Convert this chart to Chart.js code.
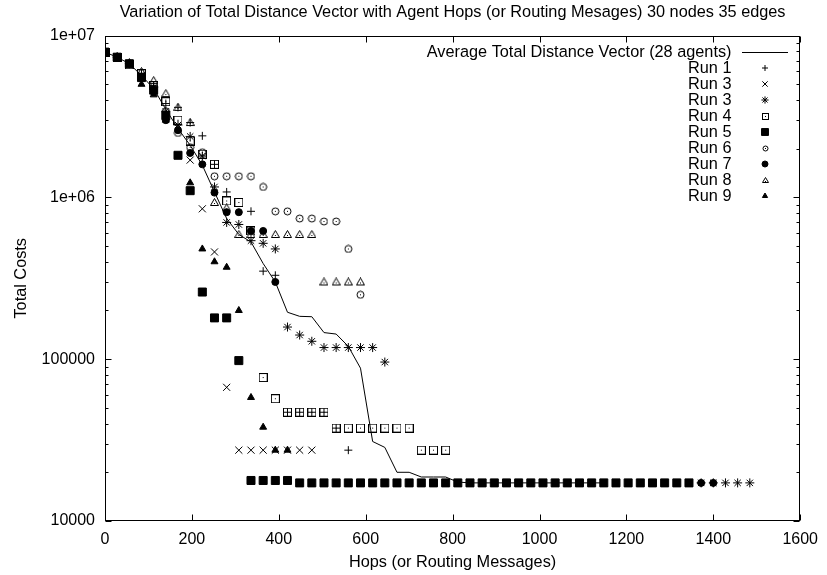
<!DOCTYPE html>
<html>
<head>
<meta charset="utf-8">
<script src="https://cdn.jsdelivr.net/npm/chart.js@4/dist/chart.umd.min.js"></script>
<style>
html,body{margin:0;padding:0;background:#ffffff;}
#wrap{width:827px;height:575px;position:relative;}
</style>
</head>
<body>
<div id="wrap"><canvas id="c" width="827" height="575"></canvas></div>
<script>
// ---------- texts ----------
const chartTitle = 'Variation of Total Distance Vector with Agent Hops (or Routing Mesages) 30 nodes 35 edges';
const xAxisTitle = 'Hops (or Routing Messages)';
const yAxisTitle = 'Total Costs';
const seriesLabels = ['Average Total Distance Vector (28 agents)', 'Run 1', 'Run 3', 'Run 3', 'Run 4', 'Run 5', 'Run 6', 'Run 7', 'Run 8', 'Run 9'];

// ---------- ticks ----------
const xMin = 0, xMax = 1600, xStep = 200;
const yTickValues = [10000, 100000, 1000000, 10000000];
const yTickLabels = ['10000', '100000', '1e+06', '1e+07'];

// ---------- data (hops, total cost) ----------
const avgHops = [0,28,56,84,112,140,168,196,224,252,280,308,336,364,392,420,448,476,504,532,560,588,616,644,672,700,728,756,784,812,840,868,896,924,952,980,1008,1036,1064,1092,1120,1148];
const avgCost = [7.9e6,7.35e6,6.7e6,5.66e6,4.7e6,3.5e6,2.66e6,2.1e6,1.58e6,1.08e6,7.4e5,5.9e5,5.3e5,3.9e5,3.0e5,1.95e5,1.84e5,1.83e5,1.46e5,1.43e5,1.2e5,8.8e4,3.1e4,2.85e4,2.0e4,2.0e4,1.87e4,1.87e4,1.87e4,1.74e4,1.72e4,1.72e4,1.72e4,1.72e4,1.72e4,1.72e4,1.72e4,1.72e4,1.72e4,1.72e4,1.72e4,1.72e4];

const run1 = [[0,7.9e6],[28,7.4e6],[56,6.7e6],[84,5.8e6],[112,4.9e6],[140,3.8e6],[168,3.6e6],[196,2.9e6],[224,2.4e6],[252,1.6e6],[280,1.08e6],[336,8.2e5],[364,3.5e5],[392,3.3e5],[420,4.7e4],[448,4.7e4],[476,4.7e4],[504,4.7e4],[532,3.75e4],[560,2.74e4]];
const run3x = [[0,7.9e6],[28,7.3e6],[56,6.6e6],[84,5.6e6],[112,4.6e6],[140,3.3e6],[168,2.7e6],[196,1.7e6],[224,8.5e5],[252,4.6e5],[280,6.7e4],[308,2.74e4],[336,2.74e4],[364,2.74e4],[392,2.74e4],[420,2.74e4],[448,2.74e4],[476,2.74e4]];
const run3s = [[0,7.9e6],[28,7.35e6],[56,6.7e6],[84,5.7e6],[112,4.8e6],[140,3.4e6],[168,2.8e6],[196,2.38e6],[224,1.8e6],[252,1.16e6],[280,7.0e5],[308,6.8e5],[336,5.4e5],[364,5.2e5],[392,4.8e5],[420,1.58e5],[448,1.41e5],[476,1.29e5],[504,1.18e5],[532,1.18e5],[560,1.18e5],[588,1.18e5],[616,1.18e5],[644,9.6e4],[1372,1.72e4],[1400,1.72e4],[1428,1.72e4],[1456,1.72e4],[1484,1.72e4]];
const run4 = [[0,7.9e6],[28,7.35e6],[56,6.6e6],[84,5.8e6],[112,4.9e6],[140,3.9e6],[168,3.0e6],[196,2.23e6],[224,1.85e6],[252,1.6e6],[280,9.5e5],[308,9.3e5],[336,6.2e5],[364,7.7e4],[392,5.7e4],[420,4.7e4],[448,4.7e4],[476,4.7e4],[504,4.7e4],[532,3.75e4],[560,3.75e4],[588,3.75e4],[616,3.75e4],[644,3.75e4],[672,3.75e4],[700,3.75e4],[728,2.74e4],[756,2.74e4],[784,2.74e4]];
const run5 = [[0,7.9e6],[28,7.35e6],[56,6.7e6],[84,5.5e6],[112,4.6e6],[140,3.2e6],[168,1.82e6],[196,1.1e6],[224,2.6e5],[252,1.8e5],[280,1.8e5],[308,9.8e4],[336,1.78e4],[364,1.78e4],[392,1.78e4],[420,1.78e4],[448,1.72e4],[476,1.72e4],[504,1.72e4],[532,1.72e4],[560,1.72e4],[588,1.72e4],[616,1.72e4],[644,1.72e4],[672,1.72e4],[700,1.72e4],[728,1.72e4],[756,1.72e4],[784,1.72e4],[812,1.72e4],[840,1.72e4],[868,1.72e4],[896,1.72e4],[924,1.72e4],[952,1.72e4],[980,1.72e4],[1008,1.72e4],[1036,1.72e4],[1064,1.72e4],[1092,1.72e4],[1120,1.72e4],[1148,1.72e4],[1176,1.72e4],[1204,1.72e4],[1232,1.72e4],[1260,1.72e4],[1288,1.72e4],[1316,1.72e4],[1344,1.72e4]];
const run6 = [[0,7.9e6],[28,7.35e6],[56,6.7e6],[84,5.6e6],[112,4.6e6],[140,3.4e6],[168,2.5e6],[196,2.04e6],[224,1.9e6],[252,1.35e6],[280,1.35e6],[308,1.35e6],[336,1.35e6],[364,1.16e6],[392,8.2e5],[420,8.2e5],[448,7.4e5],[476,7.4e5],[504,7.1e5],[532,7.1e5],[560,4.8e5],[588,2.5e5]];
const run7 = [[0,7.9e6],[28,7.35e6],[56,6.7e6],[84,5.5e6],[112,4.5e6],[140,3.0e6],[168,2.6e6],[196,1.88e6],[224,1.6e6],[252,1.07e6],[280,8.1e5],[308,8.1e5],[336,6.2e5],[364,6.2e5],[392,3.0e5],[1372,1.72e4],[1400,1.72e4]];
const run8 = [[0,7.9e6],[28,7.4e6],[56,6.8e6],[84,6.0e6],[112,5.27e6],[140,4.38e6],[168,3.6e6],[196,2.9e6],[252,9.3e5],[280,8.6e5],[308,5.9e5],[336,5.9e5],[364,5.9e5],[392,5.9e5],[420,5.9e5],[448,5.9e5],[476,5.9e5],[504,3.0e5],[532,3.0e5],[560,3.0e5],[588,3.0e5]];
const run9 = [[0,7.9e6],[28,7.3e6],[56,6.6e6],[84,5.0e6],[112,4.3e6],[140,3.0e6],[196,1.23e6],[224,4.8e5],[252,4.0e5],[280,3.7e5],[308,2.0e5],[336,5.8e4],[364,3.8e4],[392,2.74e4],[420,2.74e4]];

// ---------- marker images (gnuplot-like open markers with centre dot) ----------
function makeMarker(kind, size) {
  const c = document.createElement('canvas');
  c.width = size; c.height = size;
  const g = c.getContext('2d');
  g.strokeStyle = '#000'; g.fillStyle = '#000'; g.lineWidth = 1;
  const m = (size - 1) / 2;
  if (kind === 'box') {
    g.strokeRect(0.5, 0.5, size - 1, size - 1);
    g.fillRect(Math.floor(m), Math.floor(m), 1, 1);
  } else if (kind === 'circle') {
    g.beginPath(); g.arc(size / 2, size / 2, size / 2 - 1, 0, Math.PI * 2); g.stroke();
    g.fillRect(Math.floor(m), Math.floor(m), 1, 1);
  } else {
    g.beginPath(); g.moveTo(size / 2, 0.5); g.lineTo(size - 0.5, size - 1.5); g.lineTo(0.5, size - 1.5); g.closePath(); g.stroke();
    g.fillRect(Math.floor(m), Math.floor(m) + 1, 1, 1);
  }
  return c;
}
const boxDot = makeMarker('box', 9), circDot = makeMarker('circle', 9), triDot = makeMarker('tri', 9);
const boxDotS = makeMarker('box', 7), circDotS = makeMarker('circle', 7), triDotS = makeMarker('tri', 7);

const toPts = arr => arr.map(p => ({x: p[0], y: p[1]}));

function scatterSet(label, pts, style, radius, filled, legendStyle, legendRadius, order) {
  return {
    type: 'scatter', label, data: toPts(pts), showLine: false,
    pointStyle: style, pointRadius: radius, pointHoverRadius: radius,
    borderColor: '#000', backgroundColor: filled ? '#000' : 'rgba(0,0,0,0)',
    pointBorderWidth: 1, borderWidth: 1, order,
    legendStyle, legendRadius
  };
}

const datasets = [
  {
    type: 'line', label: seriesLabels[0],
    data: avgHops.map((h, i) => ({x: h, y: avgCost[i]})),
    borderColor: '#000', borderWidth: 1, pointRadius: 0, pointHoverRadius: 0,
    fill: false, tension: 0, order: 20
  },
  scatterSet(seriesLabels[1], run1, 'cross', 4, false, 'cross', 3, 9),
  scatterSet(seriesLabels[2], run3x, 'crossRot', 5, false, 'crossRot', 3.8, 8),
  scatterSet(seriesLabels[3], run3s, 'star', 4.5, false, 'star', 3.6, 7),
  scatterSet(seriesLabels[4], run4, boxDot, 4, false, boxDotS, 3, 6),
  scatterSet(seriesLabels[5], run5, 'rect', 5.66, true, 'rect', 4.9, 5),
  scatterSet(seriesLabels[6], run6, circDot, 4, false, circDotS, 3, 4),
  scatterSet(seriesLabels[7], run7, 'circle', 3.5, true, 'circle', 3, 3),
  scatterSet(seriesLabels[8], run8, triDot, 4, false, triDotS, 3, 2),
  scatterSet(seriesLabels[9], run9, 'triangle', 4, true, 'triangle', 3, 1)
];

// ---------- frame, inward ticks and gnuplot-style key ----------
const framePlugin = {
  id: 'gnuplotFrame',
  afterDatasetsDraw(chart) {
    const {ctx, chartArea: a, scales: {x, y}} = chart;
    ctx.save();
    ctx.strokeStyle = '#000'; ctx.lineWidth = 1;
    const L = Math.round(a.left) + 0.5, R = Math.round(a.right) - 0.5;
    const T = Math.round(a.top) + 0.5, B = Math.round(a.bottom) - 0.5;
    ctx.strokeRect(L, T, R - L, B - T);
    ctx.beginPath();
    for (let v = xMin; v <= xMax; v += xStep) {
      const px = Math.round(x.getPixelForValue(v)) + 0.5;
      ctx.moveTo(px, B); ctx.lineTo(px, B - 6);
      ctx.moveTo(px, T); ctx.lineTo(px, T + 6);
    }
    for (let d = 0; d < yTickValues.length; d++) {
      const dec = yTickValues[d];
      const py = Math.round(y.getPixelForValue(dec)) + 0.5;
      ctx.moveTo(L, py); ctx.lineTo(L + 6, py);
      ctx.moveTo(R, py); ctx.lineTo(R - 6, py);
      if (d < yTickValues.length - 1) {
        for (let m = 2; m <= 9; m++) {
          const pm = Math.round(y.getPixelForValue(dec * m)) + 0.5;
          ctx.moveTo(L, pm); ctx.lineTo(L + 3, pm);
          ctx.moveTo(R, pm); ctx.lineTo(R - 3, pm);
        }
      }
    }
    ctx.stroke();

    // key
    const textRight = 731.5, markX = 765, lineX0 = 742, lineX1 = 788;
    ctx.font = '16.3px "Liberation Sans", Arial, sans-serif';
    ctx.fillStyle = '#000';
    ctx.textAlign = 'right';
    ctx.textBaseline = 'middle';
    chart.data.datasets.forEach((ds, i) => {
      const yy = 52 + 16 * i;
      ctx.fillText(ds.label, textRight, yy + 1);
      if (i === 0) {
        ctx.beginPath(); ctx.moveTo(lineX0, yy + 0.5); ctx.lineTo(lineX1, yy + 0.5); ctx.stroke();
      } else if (typeof ds.legendStyle === 'object') {
        const im = ds.legendStyle;
        ctx.drawImage(im, Math.round(markX - im.width / 2), Math.round(yy - im.height / 2));
      } else {
        ctx.fillStyle = ds.backgroundColor;
        ctx.strokeStyle = '#000';
        ctx.lineWidth = 1;
        Chart.helpers.drawPoint(ctx, {pointStyle: ds.legendStyle, radius: ds.legendRadius, borderWidth: 1, rotation: 0}, markX, yy);
        ctx.fillStyle = '#000';
      }
    });
    ctx.restore();
  }
};

Chart.defaults.font.family = '"Liberation Sans", Arial, sans-serif';
Chart.defaults.font.size = 16;
Chart.defaults.color = '#000';

new Chart(document.getElementById('c'), {
  data: {datasets},
  options: {
    responsive: false, animation: false, devicePixelRatio: 1, events: [],
    layout: {padding: {left: 0, right: 20, top: 0, bottom: 0}},
    plugins: {
      legend: {display: false}, tooltip: {enabled: false},
      title: {display: true, text: chartTitle, fullSize: false, color: '#000',
        font: {size: 16.3, weight: 'normal'}, padding: {top: 3, bottom: 13}}
    },
    scales: {
      x: {
        type: 'linear', position: 'bottom', min: xMin, max: xMax,
        grid: {display: false, drawTicks: false}, border: {display: false},
        ticks: {stepSize: xStep, padding: 9, maxRotation: 0, autoSkip: false, color: '#000',
          callback: v => String(v)},
        title: {display: true, text: xAxisTitle, color: '#000', font: {size: 16.3}, padding: {top: 0, bottom: 3}},
        afterFit: s => { s.height = 54; }
      },
      y: {
        type: 'logarithmic', position: 'left', min: 10000, max: 10000000,
        grid: {display: false, drawTicks: false}, border: {display: false},
        afterBuildTicks: s => { s.ticks = yTickValues.map(v => ({value: v})); },
        ticks: {padding: 10, color: '#000', callback: (v, i) => yTickLabels[i]},
        title: {display: true, text: yAxisTitle, color: '#000', font: {size: 16.3}, padding: {top: 11.5, bottom: 0}},
        afterFit: s => { s.width = 105; }
      }
    }
  },
  plugins: [framePlugin]
});
</script>
</body>
</html>
